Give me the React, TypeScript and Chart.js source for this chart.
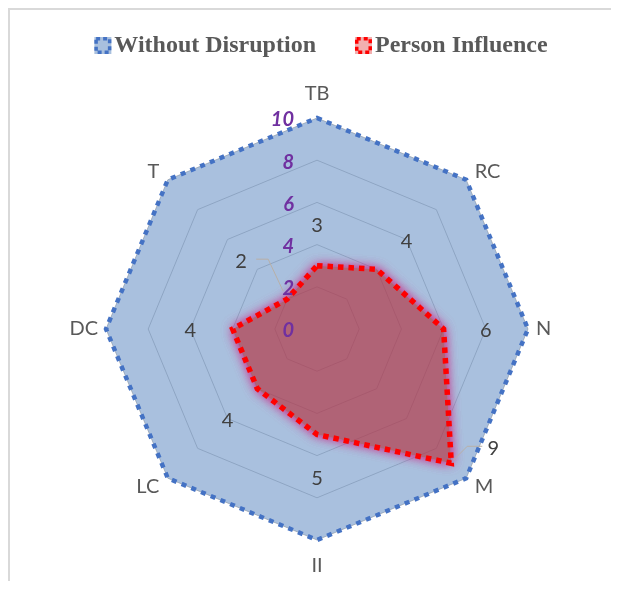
import React, { useEffect, useRef } from "react";
import { Chart, registerables } from "chart.js";

Chart.register(...registerables);

const categories = ["TB", "RC", "N", "M", "II", "LC", "DC", "T"];
const withoutDisruption = [10, 10, 10, 10, 10, 10, 10, 10];
const personInfluence = [3, 4, 6, 9, 5, 4, 4, 2];
const seriesNames = ["Without Disruption", "Person Influence"];
const scaleMin = 0;
const scaleMax = 10;
const scaleStep = 2;

const SANS = "Lato, 'Open Sans', sans-serif";
const SERIF = "'Liberation Serif', 'Times New Roman', serif";

const BLUE_FILL = "rgba(112,150,200,0.6)";
const BLUE_LINE = "#4472C4";
const RED_FILL = "rgba(180,55,70,0.68)";
const RED_LINE = "#FF0000";

// leader-line layouts (pixel offsets relative to the data point) for labels Excel moved
const leaderLayouts: Record<number, { line: number[][]; label: number[] }> = {
  3: { line: [[2, -3], [16, -17], [31, -17]], label: [42, -16] },
  7: { line: [[-4, -8], [-19, -40], [-31, -40]], label: [-46, -39] },
};

function drawMarker(ctx: CanvasRenderingContext2D, x: number, y: number, s: number, fill: string, stroke: string) {
  ctx.save();
  ctx.fillStyle = fill;
  ctx.fillRect(x, y, s, s);
  ctx.strokeStyle = stroke;
  ctx.lineWidth = 3.5;
  ctx.setLineDash([4, 3]);
  ctx.strokeRect(x + 1.75, y + 1.75, s - 3.5, s - 3.5);
  ctx.restore();
}

const excelLook = {
  id: "excelLook",
  afterDatasetDraw(chart: any, args: any) {
    if (args.index !== 0) return;
    // soft outer glow of the second series, drawn only outside its polygon
    const ctx: CanvasRenderingContext2D = chart.ctx;
    const pts = chart.getDatasetMeta(1).data;
    if (!pts || !pts.length) return;
    ctx.save();
    ctx.beginPath();
    ctx.rect(0, 0, chart.width, chart.height);
    pts.forEach((p: any, k: number) => (k === 0 ? ctx.moveTo(p.x, p.y) : ctx.lineTo(p.x, p.y)));
    ctx.closePath();
    ctx.clip("evenodd");
    const off = 5000;
    ctx.shadowColor = "rgba(200,50,140,0.9)";
    ctx.shadowBlur = 12;
    ctx.shadowOffsetX = off;
    for (let pass = 0; pass < 2; pass++) {
      ctx.beginPath();
      pts.forEach((p: any, k: number) => (k === 0 ? ctx.moveTo(p.x - off, p.y) : ctx.lineTo(p.x - off, p.y)));
      ctx.closePath();
      ctx.fillStyle = "#000";
      ctx.fill();
    }
    ctx.restore();
  },
  afterDatasetsDraw(chart: any) {
    const ctx: CanvasRenderingContext2D = chart.ctx;
    const scale = chart.scales.r;
    ctx.save();

    // tick labels
    ctx.font = `italic bold 20px ${SANS}`;
    ctx.fillStyle = "#7030A0";
    ctx.textAlign = "right";
    ctx.textBaseline = "middle";
    scale.ticks.forEach((t: any) => {
      const d = scale.getDistanceFromCenterForValue(t.value);
      ctx.fillText(String(t.value), scale.xCenter - 23, scale.yCenter - d + 2);
    });

    // point labels (categories)
    ctx.font = `20px ${SANS}`;
    ctx.fillStyle = "#595959";
    const labels = chart.data.labels as string[];
    labels.forEach((lab, i) => {
      const apex = scale.getPointPosition(i, scale.drawingArea);
      const dx = apex.x - scale.xCenter;
      const dy = apex.y - scale.yCenter;
      const r = Math.hypot(dx, dy);
      const ux = dx / r;
      const uy = dy / r;
      const horiz = Math.abs(ux) > 0.99;
      const vert = Math.abs(uy) > 0.99;
      const dist = horiz ? 8 : 12;
      const x = apex.x + ux * dist;
      let y = apex.y + uy * dist;
      if (vert) y += uy > 0 ? 14 : -12;
      ctx.textAlign = Math.abs(ux) < 0.01 ? "center" : ux > 0 ? "left" : "right";
      ctx.textBaseline = "middle";
      ctx.fillText(lab, x, y);
    });

    // data labels of the second series
    const meta = chart.getDatasetMeta(1);
    const values = chart.data.datasets[1].data as number[];
    ctx.font = `20px ${SANS}`;
    ctx.fillStyle = "#404040";
    ctx.textAlign = "center";
    ctx.textBaseline = "middle";
    values.forEach((v, i) => {
      const pt = meta.data[i];
      const lay = leaderLayouts[i];
      if (lay) {
        ctx.save();
        ctx.strokeStyle = "#B8AFA6";
        ctx.lineWidth = 1;
        ctx.beginPath();
        lay.line.forEach((p, k) => {
          if (k === 0) ctx.moveTo(pt.x + p[0], pt.y + p[1]);
          else ctx.lineTo(pt.x + p[0], pt.y + p[1]);
        });
        ctx.stroke();
        ctx.restore();
        ctx.fillText(String(v), pt.x + lay.label[0], pt.y + lay.label[1] + 1);
      } else {
        const p = scale.getPointPositionForValue(i, v + 2);
        ctx.fillText(String(v), p.x, p.y + 2);
      }
    });

    // legend
    const ds = chart.data.datasets;
    const markerFills = ["#A9C0DE", "#F2AFAF"];
    const markerLines = [BLUE_LINE, RED_LINE];
    ctx.font = `bold 24px ${SERIF}`;
    ctx.textAlign = "left";
    ctx.textBaseline = "alphabetic";
    const ms = 17;
    const gapMarker = 3;
    const gapItem = 39;
    const widths = ds.map((d: any) => ctx.measureText(d.label).width);
    const total = widths.reduce((a: number, w: number) => a + ms + gapMarker + w, 0) + gapItem * (ds.length - 1);
    let x = scale.xCenter + 4 - total / 2;
    const markerTop = 27;
    const baseline = 42;
    ds.forEach((d: any, i: number) => {
      drawMarker(ctx, x, markerTop, ms, markerFills[i], markerLines[i]);
      x += ms + gapMarker;
      ctx.fillStyle = "#595959";
      ctx.fillText(d.label, x, baseline);
      x += widths[i] + gapItem;
    });

    ctx.restore();
  },
};

export default function App() {
  const ref = useRef<HTMLCanvasElement | null>(null);
  useEffect(() => {
    if (!ref.current) return;
    const chart = new Chart(ref.current, {
      type: "radar",
      data: {
        labels: categories,
        datasets: [
          {
            label: seriesNames[0],
            data: withoutDisruption,
            backgroundColor: BLUE_FILL,
            borderColor: BLUE_LINE,
            borderWidth: 4.5,
            borderDash: [5, 5.5],
            fill: true,
            pointRadius: 0,
            order: 2,
            clip: false,
          } as any,
          {
            label: seriesNames[1],
            data: personInfluence,
            backgroundColor: RED_FILL,
            borderColor: RED_LINE,
            borderWidth: 5.5,
            borderDash: [5.5, 5],
            fill: true,
            pointRadius: 0,
            order: 1,
            clip: false,
          } as any,
        ],
      },
      options: {
        responsive: false,
        animation: false,
        devicePixelRatio: 1,
        layout: { padding: { left: 96, right: 83, top: 108, bottom: 41 } },
        elements: { line: { tension: 0, borderJoinStyle: "miter" } },
        plugins: {
          legend: { display: false },
          tooltip: { enabled: false },
          title: { display: false },
        },
        scales: {
          r: {
            min: scaleMin,
            max: scaleMax,
            ticks: { stepSize: scaleStep, display: false },
            grid: { circular: false, color: "#BBBBBB", lineWidth: 1 },
            angleLines: { display: false },
            pointLabels: { display: false },
          },
        },
      },
      plugins: [excelLook],
    });
    return () => chart.destroy();
  }, []);
  return (
    <div
      style={{
        width: 603,
        height: 573,
        borderTop: "2px solid #d9d9d9",
        borderLeft: "2px solid #d9d9d9",
        boxSizing: "border-box",
        background: "#fff",
      }}
    >
      <canvas ref={ref} width={601} height={571} style={{ display: "block" }} />
    </div>
  );
}
